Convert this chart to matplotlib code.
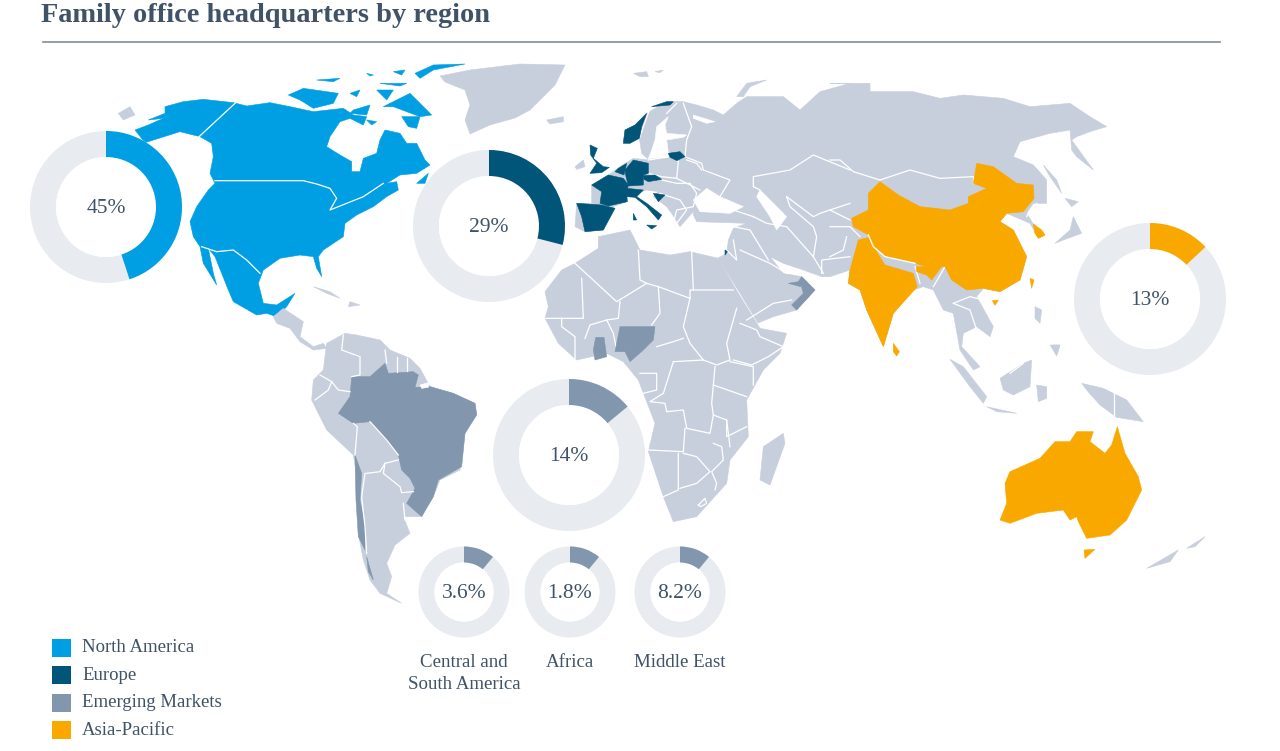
import matplotlib
matplotlib.use("Agg")
import matplotlib.pyplot as plt
from matplotlib.patches import Polygon, Wedge, Circle, Rectangle

# ---------- chart data ----------
TITLE = "Family office headquarters by region"
legend_labels = ["North America", "Europe", "Emerging Markets", "Asia-Pacific"]
donut_labels = ["45%", "29%", "13%", "14%", "3.6%", "1.8%", "8.2%"]
donut_share = [45, 29, 13, 14, 11, 11, 11]   # drawn arc, % of the ring (the three small rings are drawn alike)
donut_names = [None, None, None, None, "Central and\nSouth America", "Africa", "Middle East"]

BLUE, NAVY, SLATE, ORANGE = "#009FE3", "#005578", "#8297AE", "#F9A800"
LAND, RING, INK = "#C8CFDC", "#E8EBEF", "#3F5266"
donut_color = [BLUE, NAVY, ORANGE, SLATE, SLATE, SLATE, SLATE]
donut_xy = [(106, 207), (489, 226), (1150, 299), (569, 455), (464, 592), (570, 592), (680, 592)]
donut_radius = [(76, 50)] * 4 + [(45.5, 29.5)] * 3
FONT = "Liberation Serif"

fig = plt.figure(figsize=(12.8, 7.51), dpi=100)
ax = fig.add_axes([0, 0, 1, 1])
ax.set_xlim(0, 1280); ax.set_ylim(0, 751); ax.axis("off")


def P(origin, pts):
    """Map-trace points (crop coordinates, 3x) to canvas units."""
    ox, oy = origin
    return [(ox + x / 3, 751 - (oy + y / 3)) for x, y in pts]


def fill(origin, pts, color=LAND, z=2):
    ax.add_patch(Polygon(P(origin, pts), closed=True, fc=color, ec=color, lw=0.4, zorder=z))


def line(origin, pts, z=3, lw=0.9):
    xy = P(origin, pts)
    ax.plot([a for a, _ in xy], [b for _, b in xy], color="white", lw=lw, zorder=z, solid_joinstyle="round")


NA, EU, AS, SA, AF, OC = (100, 50), (520, 60), (830, 70), (270, 300), (530, 230), (930, 330)
RAW = (0, 0)

# ---------- North America ----------
fill(NA, [(105,240),(145,225),(190,205),(145,210),(195,190),(195,170),(250,155),(310,148),(400,158),(440,168),(510,158),(570,170),(640,185),(730,175),(760,195),(800,200),(790,225),(750,205),(720,215),(690,260),(680,290),(720,315),(755,335),(755,365),(780,365),(790,325),(830,310),(840,270),(855,240),(900,250),(920,280),(950,280),(975,330),(990,345),(950,370),(900,375),(860,400),(890,395),(895,420),(860,440),(820,470),(770,495),(735,520),(730,560),(670,600),(655,620),(665,680),(650,655),(640,620),(600,615),(540,625),(490,660),(475,700),(490,760),(530,765),(585,730),(560,770),(530,800),(500,790),(470,795),(400,755),(385,720),(345,620),(325,595),(340,670),(350,705),(310,640),(300,590),(280,560),(270,515),(290,470),(325,420),(345,400),(330,370),(340,320),(335,280),(300,260),(240,245),(160,270),(135,278)], BLUE)
for isl in [[(565,135),(610,115),(715,130),(700,160),(640,175),(600,150)], [(750,130),(780,120),(770,140)],
            [(760,180),(810,165),(800,195),(750,190)], [(830,120),(880,120),(860,150)],
            [(850,170),(930,130),(995,195),(960,200),(880,170)], [(905,200),(960,200),(950,235),(925,230)],
            [(800,210),(830,215),(815,225)], [(880,65),(915,60),(905,75)],
            [(945,70),(1000,45),(1095,42),(1000,60),(960,85)], [(650,90),(720,85),(700,95)],
            [(800,70),(820,75),(810,78)], [(840,100),(920,100),(900,108)], [(950,400),(985,370),(975,400)]]:
    fill(NA, isl, BLUE)
line(NA, [(405,160),(295,262)])
line(NA, [(345,392),(610,392),(650,402),(690,415),(710,445),(690,480),(740,460),(790,440),(850,400)])
line(NA, [(305,590),(350,605),(400,600),(440,630),(480,670)])
fill(NA, [(640,710),(690,725),(720,745),(680,730)])
fill(NA, [(750,755),(780,765),(745,770)])

# Russia tip + Greenland
fill(NA, [(55,190),(90,170),(105,195),(70,210)])
fill(RAW, [(x*3, y*3) for x, y in [(440,76),(470,70),(520,64),(565,65),(555,85),(540,100),(530,110),(515,118),(490,125),(470,134),(465,120),(470,105),(465,90),(445,82)]])

# ---------- Eurasia ----------
eur_north = [(440,125),(490,125),(530,135),(580,150),(610,165),(650,130),(680,110),(740,110),(790,110),(840,150),(900,95),(990,70)]
asia_east = [(0,40),(120,40),(120,65),(250,65),(330,85),(400,75),(520,85),(600,110),(720,100),(780,140),(830,170),(780,185),(740,200),(725,210),(790,300),(740,260),(725,240),(720,180),(660,190),(570,215),(550,260),(610,285),(650,330),(650,400),(610,400),(590,430),(610,462),(645,495),(625,505),(600,460),(530,430),(510,455),(550,480),(590,560),(570,630),(510,665),(460,655),(440,680),(490,770),(480,800),(440,770),(400,790),(395,830),(450,890),(430,900),(390,840),(370,730),(340,720),(310,660),(280,650),(250,660),(190,730),(160,830),(110,720),(90,660),(55,640),(60,600),(0,620)]
eur_south = [(905,650),(850,630),(790,610),(750,590),(790,640),(845,650),(885,690),(830,750),(760,770),(714,789),(654,690),(594,594),(620,580),(625,540),(640,505),(680,490),(530,485),(520,465),(520,455),(480,500),(455,460),(440,440),(400,410),(415,395),(380,390),(320,410),(320,425),(280,440),(250,510),(195,515),(165,500),(170,430),(215,430),(215,375),(265,345),(300,320),(340,295),(390,300),(385,298),(365,280),(358,235),(310,245),(315,210),(345,195),(380,160)]
ax.add_patch(Polygon(P(EU, eur_north) + P(AS, asia_east) + P(EU, eur_south), closed=True, fc=LAND, ec=LAND, lw=0.4, zorder=2))
# seas cut out of the land
fill(EU, [(520,420),(560,385),(600,410),(670,440),(630,460),(540,455)], "white", 2.5)
fill(EU, [(720,390),(770,440),(800,470),(770,510),(750,470),(710,410)], "white", 2.5)
fill(EU, [(445,170),(410,200),(405,240),(395,270),(385,296),(450,290),(445,275),(440,240),(490,232),(500,225),(440,220),(435,195)], "white", 2.5)
fill(EU, [(520,165),(585,185),(560,190),(520,175)], "white", 2.5)
for isl in [[(80,180),(130,170),(130,185),(90,192)], [(165,320),(190,300),(195,320),(170,328)],
            [(340,40),(380,35),(385,50),(360,50)], [(405,35),(430,30),(420,38)],
            [(650,110),(680,70),(740,60),(690,80),(670,110)]]:
    fill(EU, isl)
for isl in [[(730,440),(755,490),(700,510),(675,520),(720,480)], [(705,385),(745,395),(725,410)],
            [(640,285),(680,330),(695,370),(660,320)], [(615,710),(635,720),(630,760),(615,745)],
            [(670,825),(690,825),(680,855)]]:
    fill(AS, isl)
for b in [[(490,130),(515,200),(500,240),(495,290),(545,310),(550,330),(630,360),(600,410)],
          [(385,300),(450,290),(475,305),(470,355),(425,350),(385,340)],
          [(470,355),(530,385),(540,390)], [(425,360),(470,370),(510,370),(530,400),(520,440),(470,450),(460,490)],
          [(420,400),(480,420),(500,450),(470,490)], [(700,350),(810,330),(880,285),(990,330)],
          [(700,350),(700,380),(720,390)], [(800,410),(880,470),(900,460),(990,430)],
          [(800,410),(810,440),(880,500),(890,530),(880,590),(910,640)],
          [(700,470),(740,490),(800,500),(880,590)], [(640,500),(690,510),(745,600)], [(700,470),(640,450)],
          [(660,570),(750,610),(800,640),(850,640)], [(620,570),(650,600),(640,540)],
          [(680,780),(760,730),(815,720)], [(500,300),(530,310),(545,330)], [(905,640),(905,600),(990,590)],
          [(358,235),(395,130),(440,125)], [(440,160),(470,130)]]:
    line(EU, b)
for b in [[(0,270),(30,270),(70,305),(150,330)], [(150,330),(240,300),(330,325),(430,320)], [(430,320),(430,340)],
          [(590,440),(600,420),(620,400)], [(370,700),(420,680),(460,690),(490,760)], [(370,700),(420,720),(440,780)],
          [(0,470),(60,470),(90,500)], [(0,420),(60,450)], [(0,560),(40,540),(50,500)], [(255,590),(270,640)], [(345,590),(310,650)]]:
    line(AS, b)

# Europe
for shape in [[(210,255),(232,265),(220,295),(250,320),(268,322),(245,338),(210,340),(230,310),(212,285)],
              [(310,250),(315,210),(345,195),(380,160),(365,200),(358,235),(330,250)],
              [(395,140),(440,125),(460,125),(450,135)],
              [(445,280),(480,275),(495,290),(470,302),(450,292)],
              [(315,330),(340,300),(385,310),(385,340),(370,345),(370,375),(325,378),(318,350)],
              [(295,325),(320,310),(312,345),(285,335)],
              [(370,347),(405,345),(425,358),(385,365),(372,358)],
              [(215,375),(265,345),(310,355),(325,375),(320,400),(322,425),(265,438),(240,430),(245,395)],
              [(320,385),(370,390),(350,410),(380,430),(425,465),(415,480),(380,440),(345,412),(320,410)],
              [(400,400),(435,405),(415,425)],
              [(170,430),(245,435),(285,445),(250,510),(195,515),(185,470)],
              [(340,460),(350,480),(340,480)], [(380,495),(410,497),(395,507)],
              [(615,570),(622,575),(615,585)]]:
    fill(EU, shape, NAVY, 4)
# Oman / UAE
fill(EU, [(845,650),(885,690),(830,750),(815,735),(850,700),(840,665)], SLATE, 4)
fill(EU, [(805,670),(835,665),(845,650),(842,680)], SLATE, 4)

# ---------- Asia-Pacific ----------
for shape in [[(65,445),(115,420),(115,370),(150,335),(205,375),(270,410),(360,420),(415,400),(415,380),(470,355),(430,340),(440,280),(490,290),(560,340),(610,345),(612,385),(580,425),(530,430),(510,455),(550,480),(590,560),(570,630),(510,665),(460,655),(410,660),(365,630),(345,590),(310,590),(290,590),(255,580),(165,560),(130,530),(115,495),(70,470)],
              [(85,510),(125,500),(140,545),(165,585),(250,610),(262,650),(190,730),(160,830),(110,720),(90,660),(55,640),(60,600)],
              [(260,590),(300,590),(330,570),(335,590),(305,630),(290,615),(260,605)],
              [(610,462),(635,480),(645,495),(625,505),(615,490)],
              [(600,625),(612,630),(605,655)], [(487,692),(505,690),(495,706)],
              [(190,820),(208,845),(200,858),(190,845)]]:
    fill(AS, shape, ORANGE, 4)
line(AS, [(115,495),(130,530),(165,560),(255,580)], 5, 1.0)
fill(OC, [(210,570),(230,520),(225,460),(240,425),(330,385),(375,335),(420,335),(440,305),(490,305),(480,335),(525,370),(545,345),(562,290),(585,370),(625,440),(635,480),(590,570),(540,615),(470,625),(445,575),(440,560),(420,570),(400,540),(320,550),(240,580)], ORANGE, 4)
fill(OC, [(462,660),(495,658),(465,685)], ORANGE, 4)
for isl in [[(60,88),(100,110),(170,200),(160,220),(120,170)], [(210,145),(280,100),(305,90),(300,170),(250,195),(220,180)],
            [(170,230),(260,250),(200,245)], [(320,165),(350,170),(350,205),(325,215)],
            [(455,160),(520,175),(590,210),(640,275),(560,262),(510,225),(470,180)],
            [(360,45),(390,45),(380,78)], [(650,715),(745,660),(720,695)], [(770,655),(825,620),(795,650)]]:
    fill(OC, isl)
line(OC, [(552,185),(552,262)])
line(OC, [(240,130),(280,100)])

# ---------- South and Central America ----------
fill(SA, [(225,100),(170,130),(160,210),(130,240),(125,300),(170,390),(250,465),(265,560),(270,640),(265,700),(280,780),(300,840),(330,880),(395,910),(350,880),(365,830),(350,790),(375,735),(420,700),(400,650),(450,650),(490,590),(510,540),(570,510),(585,400),(620,340),(615,310),(550,280),(480,260),(450,205),(420,175),(360,150),(330,120),(260,105)])
fill(SA, [(10,50),(40,25),(100,65),(90,110),(130,140),(160,130),(170,145),(130,150),(90,125),(60,85),(20,70)])
fill(SA, [(245,230),(300,230),(345,190),(355,220),(430,215),(445,225),(435,262),(480,260),(550,280),(615,310),(620,345),(585,400),(575,500),(505,540),(490,590),(455,650),(410,610),(435,565),(420,535),(395,510),(385,465),(350,420),(300,365),(250,370),(205,340),(240,290)], SLATE, 4)
fill(SA, [(255,465),(275,520),(270,600),(285,680),(285,750),(265,710),(258,600)], SLATE, 4)
fill(SA, [(290,770),(310,840),(295,815)], SLATE, 4)
for b in [[(245,230),(270,225),(270,170),(215,150),(220,105)], [(150,225),(185,245),(205,270),(240,275)],
          [(185,245),(175,270),(135,300)], [(345,150),(350,190)], [(380,170),(380,215)], [(412,175),(412,212)],
          [(250,370),(262,380),(255,465)], [(290,520),(330,515),(345,490),(385,480)], [(345,490),(340,520),(390,560),(395,578),(430,575)],
          [(400,610),(405,660)], [(285,520),(275,590),(285,680),(290,760)], [(300,365),(350,420),(385,465)]]:
    line(SA, b, 5)
fill(SA, [(450,255),(475,248),(475,262),(455,265)], "white", 5)

# ---------- Africa ----------
fill(AF, [(45,185),(95,120),(135,100),(205,55),(205,20),(300,0),(330,60),(420,75),(480,65),(565,85),(625,190),(690,295),(770,310),(750,370),(700,420),(650,510),(655,620),(600,690),(590,760),(500,860),(430,875),(400,800),(355,665),(375,580),(325,450),(280,395),(230,370),(140,390),(85,340),(45,265),(55,230)])
fill(AF, [(760,610),(765,640),(720,765),(690,750),(700,650)])
fill(AF, [(255,365),(270,290),(300,290),(375,290),(370,330),(340,360),(300,395),(285,365)], SLATE, 4)
fill(AF, [(197,322),(222,322),(230,380),(195,390),(190,360)], SLATE, 4)
for b in [[(135,100),(260,215),(350,160),(385,170),(480,205),(480,180),(610,180)], [(325,60),(330,150),(350,160)],
          [(485,65),(490,180)], [(155,145),(160,265),(95,265),(45,265)], [(385,170),(390,250),(365,285)],
          [(270,215),(265,265),(230,270)], [(480,205),(460,290),(480,340),(520,390)],
          [(620,235),(590,340),(600,390),(560,405),(520,390)],
          [(630,280),(680,300),(690,320),(760,350),(715,380),(665,405),(610,390)],
          [(600,395),(670,410),(670,465)], [(430,395),(520,390)], [(380,350),(430,335),(460,325)],
          [(430,395),(400,490),(360,515),(405,520),(410,545),(460,540),(470,595),(540,610),(550,555),(590,570),(590,620),(650,590)],
          [(555,410),(545,520),(550,555)], [(650,500),(550,465)], [(355,660),(460,665),(465,595)],
          [(445,670),(445,780),(400,800)], [(460,670),(500,680),(540,725),(500,760),(450,775)],
          [(550,640),(575,650),(580,690),(545,725),(560,760),(555,780)], [(600,650),(590,570)],
          [(95,265),(95,290),(135,320),(135,390)], [(165,325),(180,285),(230,270),(250,310),(260,360)],
          [(330,430),(380,430),(380,480),(340,490)], [(505,825),(525,805),(530,820),(512,830),(505,825)]]:
    line(AF, b)

# ---------- donuts, from the values ----------
for (cx, cy), (R, r), share, col, lab, name in zip(donut_xy, donut_radius, donut_share, donut_color, donut_labels, donut_names):
    y = 751 - cy
    ax.add_patch(Wedge((cx, y), R, 0, 360, width=R - r, fc=RING, ec="none", zorder=6))
    ax.add_patch(Circle((cx, y), r, fc="white", ec="none", zorder=6))
    ax.add_patch(Wedge((cx, y), R, 90 - 3.6 * share, 90, width=R - r, fc=col, ec="none", zorder=7))
    ax.text(cx, y - 1.5, lab, ha="center", va="center", color=INK, fontsize=15.5, family=FONT, zorder=8)
    if name:
        ax.text(cx, 751 - 654, name, ha="center", va="top", color=INK, fontsize=13.6, family=FONT,
                linespacing=1.42, zorder=8)

# ---------- title, rule, legend ----------
ax.text(41, 751 - 22, TITLE, ha="left", va="baseline", color=INK, fontsize=20.4, family=FONT, fontweight="bold", zorder=9)
ax.plot([43, 1220], [751 - 42, 751 - 42], color="#7F8C99", lw=1.2, zorder=9)
for i, (lab, col) in enumerate(zip(legend_labels, [BLUE, NAVY, SLATE, ORANGE])):
    yc = 648 + i * 27.4
    ax.add_patch(Rectangle((52, 751 - yc - 9), 19, 18, fc=col, ec="none", zorder=9))
    ax.text(82, 751 - yc, lab, ha="left", va="center", color=INK, fontsize=13.5, family=FONT, zorder=9)

fig.savefig("out.png", dpi=100, facecolor="white")
